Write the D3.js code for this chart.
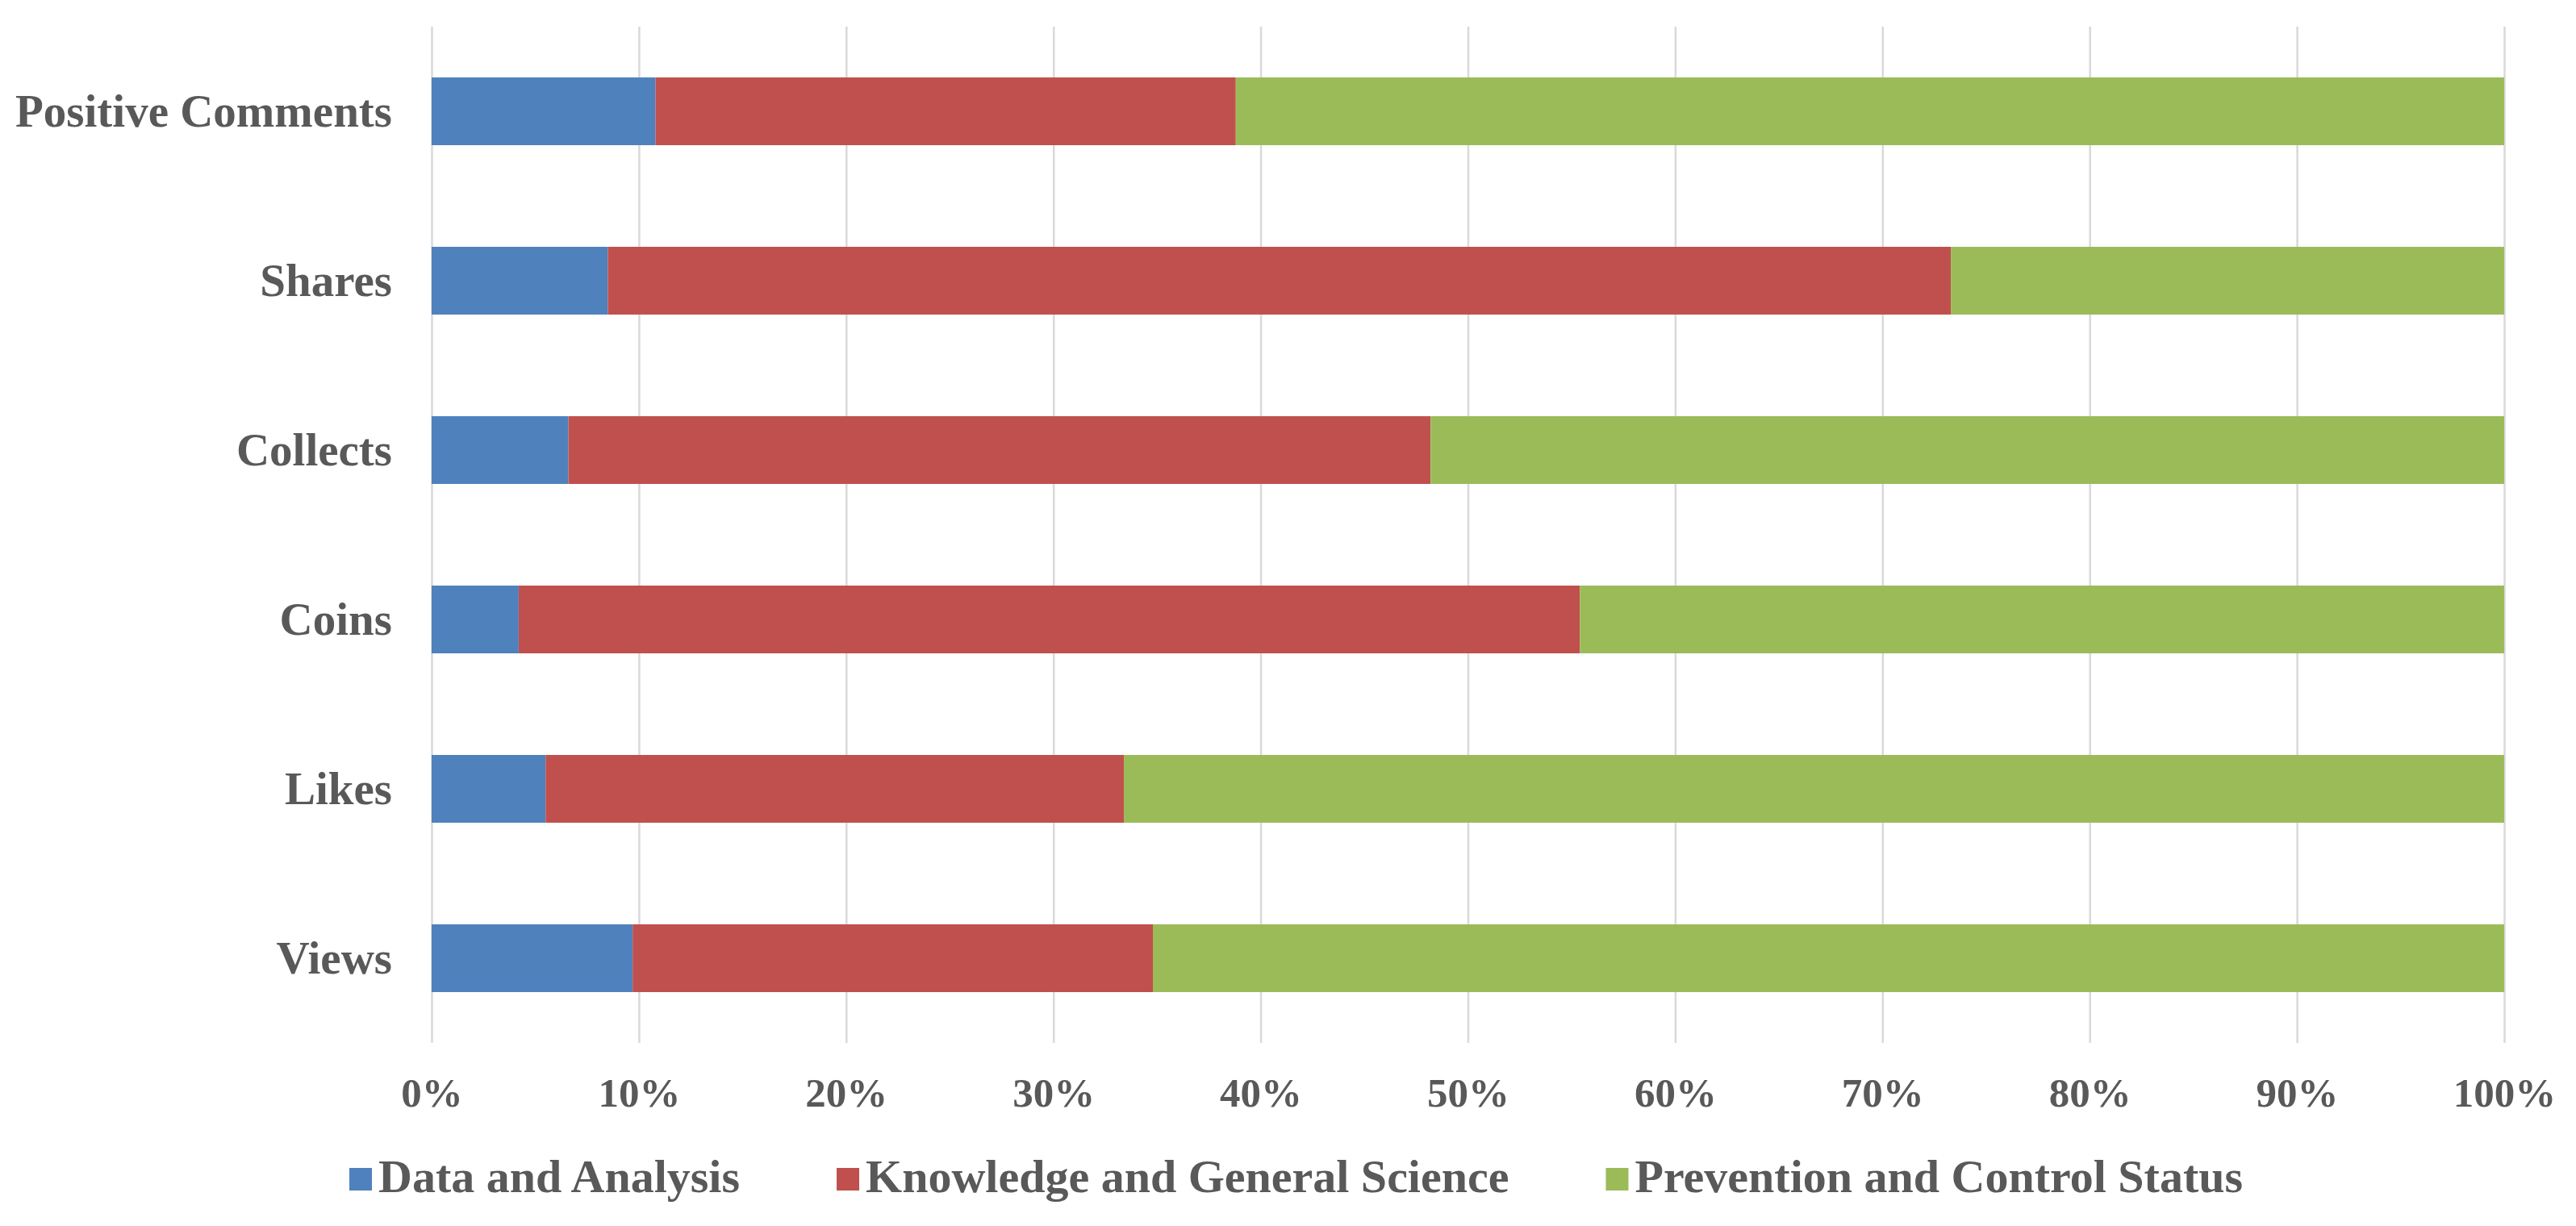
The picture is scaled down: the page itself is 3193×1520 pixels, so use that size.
<!DOCTYPE html>
<html>
<head>
<meta charset="utf-8">
<script src="https://cdn.jsdelivr.net/npm/d3@7"></script>
<style>
  html, body { margin: 0; padding: 0; background: #fff; }
  text { font-family: "Liberation Serif", "Times New Roman", serif; font-weight: bold; fill: #595959; }
</style>
</head>
<body>
<div id="main"></div>
<script>
var categories = ["Positive Comments", "Shares", "Collects", "Coins", "Likes", "Views"]
var seriesNames = ["Data and Analysis", "Knowledge and General Science", "Prevention and Control Status"]
var dataAnalysis = [10.8, 8.5, 6.6, 4.2, 5.5, 9.7]
var knowledge = [28.0, 64.8, 41.6, 51.2, 27.9, 25.1]
var prevention = [61.2, 26.7, 51.8, 44.6, 66.6, 65.2]
var tickValues = [0, 10, 20, 30, 40, 50, 60, 70, 80, 90, 100]
var colors = ["#4F81BD", "#C0504D", "#9BBB59"]

var W = 3193, H = 1520
var plotTop = 33, plotBottom = 1293, plotLeft = 535, plotRight = 3104

var svg = d3.select("#main").append("svg").attr("width", W).attr("height", H)

var rows = categories.map((c, i) => ({ cat: c, "Data and Analysis": dataAnalysis[i], "Knowledge and General Science": knowledge[i], "Prevention and Control Status": prevention[i] }))
var stacked = d3.stack().keys(seriesNames)(rows)

var x = d3.scaleLinear().domain([0, 100]).range([plotLeft, plotRight])
var y = d3.scaleBand().domain(categories).range([plotTop, plotBottom]).paddingInner(0.6).paddingOuter(0.3)

// gridlines + tick labels
var xAxis = svg.append("g")
  .attr("transform", `translate(0,${plotBottom})`)
  .call(d3.axisBottom(x).tickValues(tickValues).tickFormat(d => d + "%").tickSize(-(plotBottom - plotTop)).tickPadding(0))
xAxis.select(".domain").remove()
xAxis.selectAll(".tick line").attr("stroke", "#d9d9d9").attr("stroke-width", 2.5)
xAxis.selectAll(".tick text")
  .attr("y", 79).attr("dy", null)
  .style("font-size", "51px")
  .attr("fill", "#595959")

// bars
svg.selectAll("g.series")
  .data(stacked)
  .enter()
  .append("g")
  .attr("class", "series")
  .attr("fill", (d, i) => colors[i])
  .selectAll("rect")
  .data(d => d)
  .enter()
  .append("rect")
  .attr("x", d => x(d[0]))
  .attr("width", d => x(d[1]) - x(d[0]))
  .attr("y", d => y(d.data.cat))
  .attr("height", y.bandwidth())

// category labels
svg.selectAll("text.cat")
  .data(categories)
  .enter()
  .append("text")
  .attr("class", "cat")
  .attr("x", plotLeft - 49)
  .attr("y", d => y(d) + y.bandwidth() / 2)
  .attr("dy", "0.33em")
  .attr("text-anchor", "end")
  .style("font-size", "57px")
  .text(d => d)

// legend
var legend = svg.append("g").attr("class", "legend")
var lx = 433
seriesNames.forEach((name, i) => {
  legend.append("rect")
    .attr("x", lx).attr("y", 1448)
    .attr("width", 28).attr("height", 28)
    .attr("fill", colors[i])
  var t = legend.append("text")
    .attr("x", lx + 36).attr("y", 1478)
    .style("font-size", "58px")
    .text(name)
  lx = lx + 36 + t.node().getComputedTextLength() + 120
})
</script>
</body>
</html>
